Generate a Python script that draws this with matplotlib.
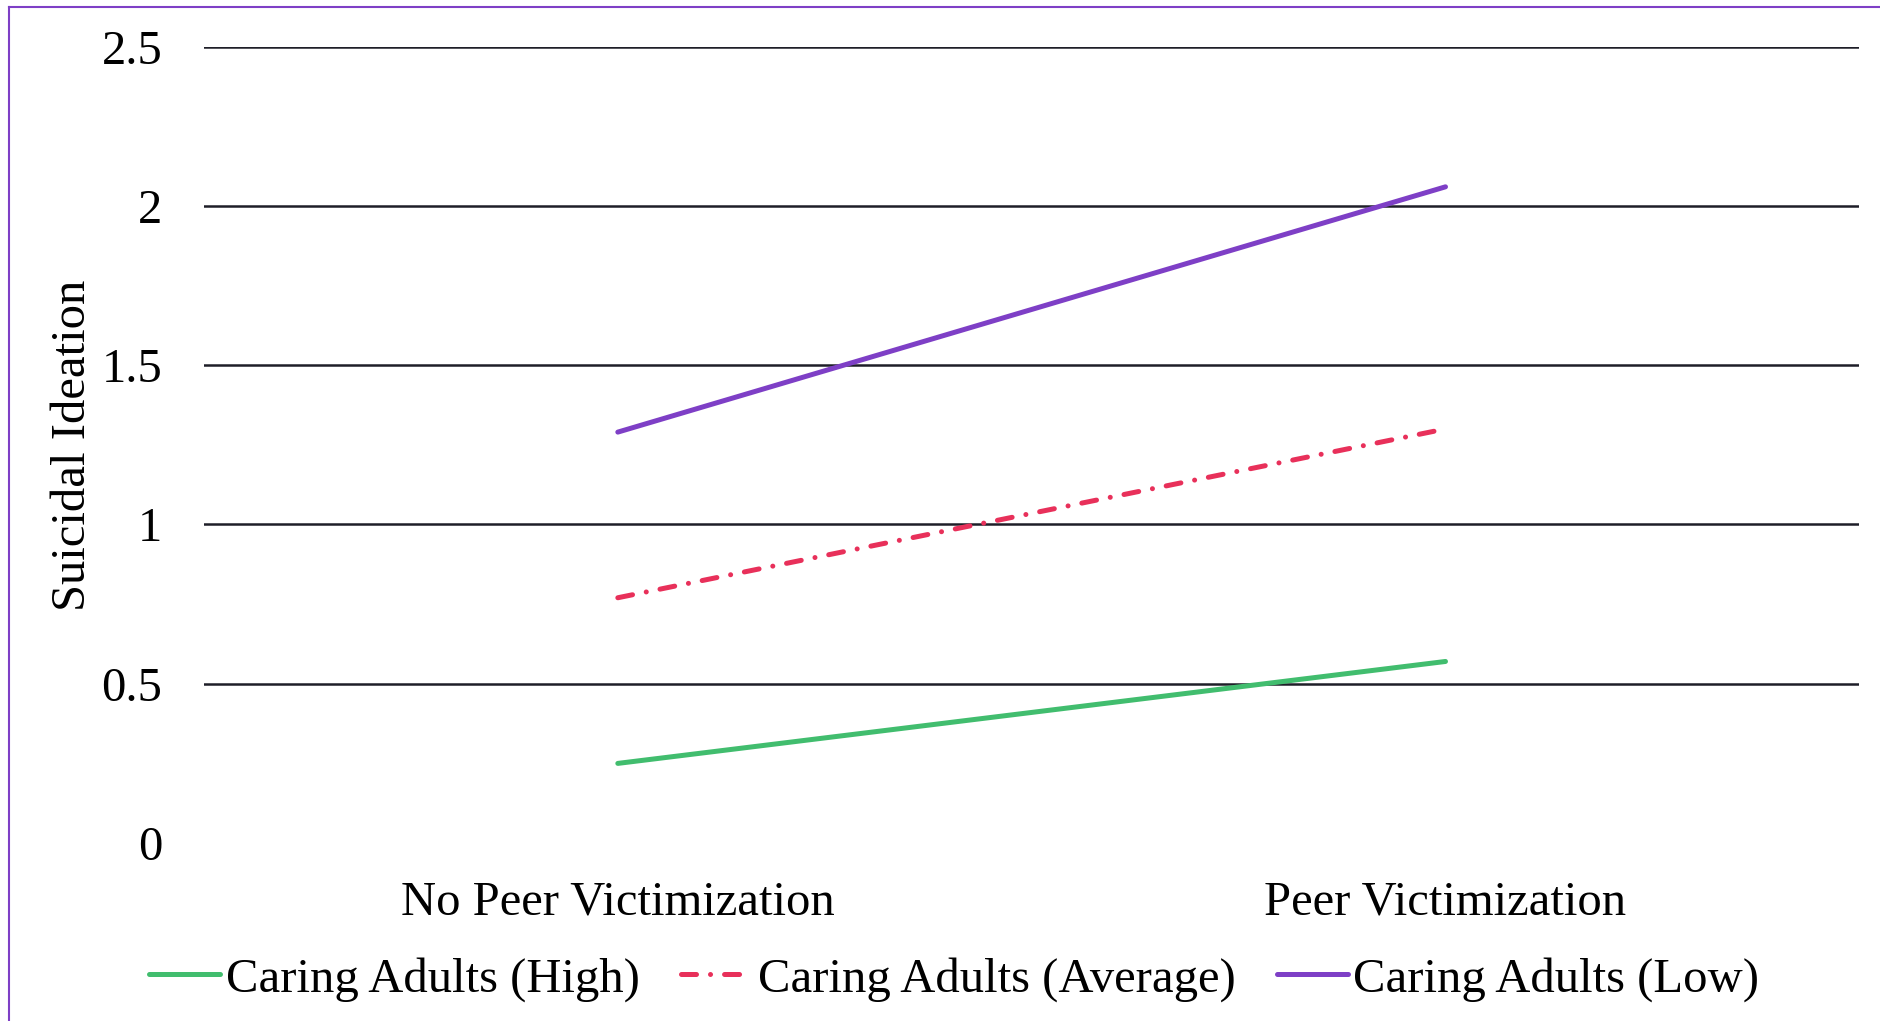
import matplotlib.pyplot as plt
from matplotlib.lines import Line2D

# data
categories = ["No Peer Victimization", "Peer Victimization"]
high = [0.25, 0.57]
average = [0.77, 1.30]
low = [1.29, 2.06]
series_names = ["Caring Adults (High)", "Caring Adults (Average)", "Caring Adults (Low)"]
y_ticks = [0, 0.5, 1, 1.5, 2, 2.5]
y_tick_labels = ["0", "0.5", "1", "1.5", "2", "2.5"]

GREEN = "#41BD6E"
RED = "#E8305A"
PURPLE = "#7E3FC6"
GRID = "#1E1E28"

plt.rcParams["font.family"] = ["Liberation Serif", "DejaVu Serif"]
FS = 35
LW = 3.6

fig = plt.figure(figsize=(18.8, 10.21), dpi=100)
ax = fig.add_axes([0.1085, 0.1743, 0.8805, 0.780])

x = [0.5, 1.5]
ax.plot(x, high, color=GREEN, lw=LW, solid_capstyle="round", label=series_names[0])
ax.plot(x, average, color=RED, lw=LW, dash_capstyle="round",
        linestyle=(0, (3.0, 2.8, 0.01, 2.8)), label=series_names[1])
ax.plot(x, low, color=PURPLE, lw=LW, solid_capstyle="round", label=series_names[2])

ax.set_xlim(0, 2)
ax.set_ylim(0, 2.5)
ax.set_xticks(x)
ax.set_xticklabels(categories, fontsize=FS)
ax.set_yticks(y_ticks)
ax.set_yticklabels(y_tick_labels, fontsize=FS)
ax.tick_params(axis="both", length=0)
ax.tick_params(axis="y", pad=30)
ax.tick_params(axis="x", pad=27)

# horizontal gridlines (none at zero)
for v in y_ticks[1:]:
    ax.axhline(v, color=GRID, lw=1.8, zorder=0)

for s in ax.spines.values():
    s.set_visible(False)

ax.set_ylabel("Suicidal Ideation", fontsize=FS)
ax.yaxis.set_label_coords(-0.066, 0.5)

leg = fig.legend(loc="center", bbox_to_anchor=(0.5075, 0.041), ncol=3, frameon=False,
                 fontsize=FS, handlelength=1.46, handletextpad=0.12, columnspacing=0.85)

# purple chart-area border (top and left edges visible)
fig.add_artist(Line2D([9 / 1880, 9 / 1880], [0, 1 - 7 / 1021], transform=fig.transFigure,
                      color=PURPLE, lw=1.5))
fig.add_artist(Line2D([9 / 1880, 1], [1 - 7 / 1021, 1 - 7 / 1021], transform=fig.transFigure,
                      color=PURPLE, lw=1.5))

fig.savefig("out.png", dpi=100)
